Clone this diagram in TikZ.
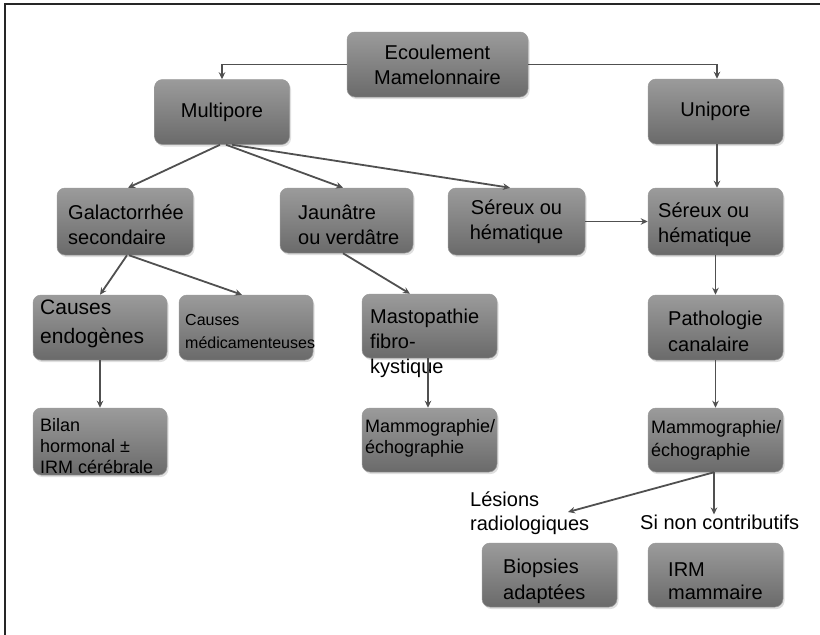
\documentclass[tikz,border=0pt]{standalone}
\usepackage{fontspec}
\setmainfont{Liberation Sans}
\usetikzlibrary{arrows.meta,shadows,calc}
\definecolor{boxtop}{RGB}{155,155,155}
\definecolor{boxbot}{RGB}{106,106,106}
\definecolor{arrcol}{RGB}{80,80,80}
\newcommand\ftmain{\fontsize{20}{25}\selectfont}
\newcommand\ftsmall{\fontsize{18}{21}\selectfont}
\newcommand\fttiny{\fontsize{16}{23}\selectfont}
\newcommand\ftbig{\fontsize{21}{29}\selectfont}
\begin{document}
\begin{tikzpicture}[x=1pt,y=-1pt,
  box/.style={rounded corners=8pt, top color=boxtop, bottom color=boxbot,
    draw=black!40, line width=0.5pt, minimum width=135pt, minimum height=65pt,
    inner sep=0pt, align=center, font=\ftmain,
    drop shadow={opacity=0.25, shadow xshift=1.5pt, shadow yshift=-2pt}},
  txt/.style={anchor=west, inner sep=0pt, align=left, font=\ftmain},
  arr/.style={draw=arrcol, line width=1.8pt, -{Stealth[length=7pt,width=6.5pt]}}]
\useasboundingbox (0,0) rectangle (820,635);
\fill[white] (0,0) rectangle (820,635);
\draw[line width=2pt, black!85] (5,635) -- (5,4) -- (820,4);

% boxes
\node[box, minimum width=181pt] (ecou) at (437.5,64.5) {\fontsize{20}{26}\selectfont Ecoulement\\Mamelonnaire};
\node[box] (multi) at (222,112) {Multipore};
\node[box] (uni) at (715.5,111.5) {Unipore};
\node[box, minimum width=136pt, minimum height=67pt] (gal) at (125,221.5) {};
\node[box, minimum width=133pt] (jau) at (346.5,220.5) {};
\node[box, minimum width=137pt, minimum height=67pt] (ser1) at (516.5,221.5) {\fontsize{20}{24}\selectfont S\'ereux ou\\h\'ematique};
\node[box, minimum height=67pt] (ser2) at (715.5,221.5) {};
\node[box, minimum width=134pt] (endo) at (100,327.5) {};
\node[box, minimum width=134pt] (medic) at (246,327.5) {};
\node[box, minimum height=64pt] (masto) at (429.5,326) {};
\node[box] (patho) at (715.5,327.5) {};
\node[box, minimum width=134pt, minimum height=67pt] (bilan) at (100,441.5) {};
\node[box, minimum height=64pt] (mam1) at (429.5,440) {};
\node[box, minimum height=64pt] (mam2) at (715.5,440) {};
\node[box, minimum height=64pt] (biop) at (549.5,575) {};
\node[box, minimum height=64pt] (irm) at (715.5,575) {};

% texts
\node[txt] (galT) at (68,225) {Galactorrh\'ee\\secondaire};
\node[txt] (jauT) at (298,224.5) {Jaun\^atre\\ou verd\^atre};
\node[txt] (ser2T) at (658,225) {S\'ereux ou\\h\'ematique};
\node[txt, font=\ftbig] (endoT) at (40,324) {Causes\\endog\`enes};
\node[txt, font=\fttiny] (medT) at (185,331.5) {Causes\\m\'edicamenteuses};
\node[txt] (mastoT) at (370,343) {Mastopathie\\fibro-\\kystique};
\node[txt, font=\fontsize{20}{26}\selectfont] (pathoT) at (668,331) {Pathologie\\canalaire};
\node[txt, font=\ftsmall] (bilanT) at (40,446) {Bilan\\hormonal ±\\IRM c\'er\'ebrale};
\node[txt, font=\ftsmall] (mam1T) at (365,438.5) {Mammographie/\\\'echographie};
\node[txt, font=\fontsize{18}{23}\selectfont] (mam2T) at (651,440) {Mammographie/\\\'echographie};
\node[txt, font=\fontsize{20}{26}\selectfont] (biopT) at (503,581) {Biopsies\\adapt\'ees};
\node[txt, font=\fontsize{20}{23}\selectfont] (irmT) at (668,581) {IRM\\mammaire};
\node[txt, font=\fontsize{20}{24}\selectfont] (lesT) at (470,513.5) {L\'esions\\radiologiques};
\node[txt] (sinonT) at (640,522) {Si non contributifs};
\coordinate (lesTip) at (568,512);

% connectors
\draw[arr] (ecou.west) -| (multi.north);
\draw[arr] (ecou.east) -| ([xshift=1.5pt]uni.north);
\draw[arr] ([xshift=-2pt]multi.south) -- ([xshift=3pt]gal.north);
\draw[arr] ([xshift=4pt]multi.south) -- ([xshift=-3.5pt]jau.north);
\draw[arr] ([xshift=10pt]multi.south) -- ([xshift=-6.5pt]ser1.north);
\draw[arr] (ser1.east) -- (ser2.west);
\draw[arr] ([xshift=1.5pt]uni.south) -- ([xshift=1.5pt]ser2.north);
\draw[arr] ([xshift=2pt]gal.south) -- (endo.north);
\draw[arr] ([xshift=4pt]gal.south) -- ([xshift=-4pt]medic.north);
\draw[arr] ([xshift=-3.5pt]jau.south) -- ([xshift=-19.5pt]masto.north);
\draw[arr] (endo.south) -- (bilan.north);
\draw[arr] ([xshift=-1.5pt]masto.south) -- ([xshift=-1.5pt]mam1.north);
\draw[arr] (ser2.south) -- (patho.north);
\draw[arr] (patho.south) -- (mam2.north);
\draw[arr] ([xshift=-1.5pt]mam2.south) -- (lesTip);
\draw[arr] ([xshift=-1.5pt]mam2.south) -- ([xshift=-1.5pt]mam2.south |- sinonT.north);
\end{tikzpicture}
\end{document}
